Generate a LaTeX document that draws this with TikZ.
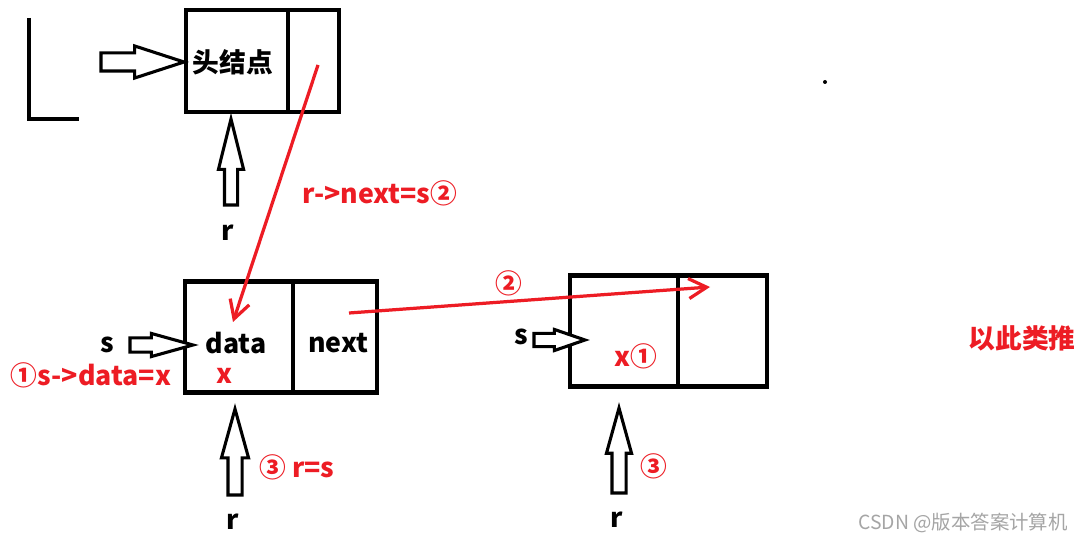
\documentclass[tikz,border=0pt]{standalone}
\usepackage{fontspec}
\setmainfont{Noto Sans CJK SC}
\usepackage{xcolor}
\usetikzlibrary{arrows.meta,positioning,shapes.arrows}
\definecolor{paintred}{RGB}{237,28,36}
\definecolor{markgray}{RGB}{165,165,165}

\begin{document}
\begin{tikzpicture}[x=0.025cm,y=-0.025cm,
  cell/.style={draw,line width=3pt,inner sep=0pt,outer sep=0pt},
  ptr/.style n args={4}{single arrow,draw,line width=2.2pt,fill=white,inner xsep=0pt,
    outer sep=0pt,single arrow head indent=0pt,minimum width=0pt,
    minimum height=#1,single arrow head extend=#2,inner ysep=#3,single arrow tip angle=#4,anchor=tip},
  txt/.style={font=\fontsize{19}{22}\selectfont\bfseries,inner sep=0pt},
  note/.style={txt,text=paintred},
  link/.style={-{Straight Barb[length=4.5mm,width=5mm]},paintred,line width=2.3pt}]
\fill[white] (0,0) rectangle (1084,543);
\useasboundingbox (0,0) rectangle (1084,543);
% list head L
\draw[line width=3pt] (29,18) |- (79,119);
\fill (825,82) circle[radius=2];
% head node
\node[cell,minimum width=2.55cm,minimum height=2.55cm] (hddata) at (237,61) {};
\node[cell,right=0pt of hddata,minimum width=1.275cm,minimum height=2.55cm] (hdnext) {};
\node[txt] (hdtxt) at (233,62) {头结点};
\node[ptr={2.075cm}{0.175cm}{0.1875cm}{36}] (lptr) at (184,62) {};
\node[ptr={2.15cm}{0.15cm}{0.125cm}{28},rotate=90] (rptr1) at (231,119) {};
\node[txt] (r1) at (228,233) {r};
% new node s
\node[cell,minimum width=2.7cm,minimum height=2.775cm] (sdata) at (239,337) {};
\node[cell,right=0pt of sdata,minimum width=2.1cm,minimum height=2.775cm] (snext) {};
\node[txt] (datatxt) at (236,343) {data};
\node[txt] (nexttxt) at (338,343) {next};
\node[note] (xval) at (224,376) {x};
\node[txt] (s1) at (107,345) {s};
\node[ptr={1.575cm}{0.1125cm}{0.1375cm}{31}] (sptr1) at (193,345) {};
\node[note] (step1) at (91,375) {①s->data=x};
\node[ptr={2.15cm}{0.1625cm}{0.1375cm}{31},rotate=90] (rptr2) at (235,409) {};
\node[txt] (r2) at (233,522) {r};
\node[note] (step3) at (297,467) {③ r=s};
% next new node
\node[cell,minimum width=2.7cm,minimum height=2.775cm] (tdata) at (624,331) {};
\node[cell,right=0pt of tdata,minimum width=2.225cm,minimum height=2.775cm] (tnext) {};
\node[txt] (s2) at (521,337) {s};
\node[ptr={1.275cm}{0.1cm}{0.125cm}{38}] (sptr2) at (585,340) {};
\node[note] (xval2) at (636,356) {x①};
\node[ptr={2.125cm}{0.1375cm}{0.1375cm}{31},rotate=90] (rptr3) at (619,408) {};
\node[txt] (r3) at (617,520) {r};
\node[note] (step3b) at (654,466) {③};
% red links
\coordinate (hdptr) at (318,65);
\coordinate (datatop) at (233,322);
\coordinate (snextptr) at (349,313);
\coordinate (tnexttop) at (710,287);
\draw[link] (hdptr) -- (datatop);
\draw[link] (snextptr) -- (tnexttop);
\node[note] (step2) at (380,193) {r->next=s②};
\node[note] (step2b) at (509,283) {②};
\node[note] (etc) at (1022,338) {以此类推};
\node[font=\fontsize{13.8}{16}\selectfont,text=markgray,inner sep=0pt] (mark) at (963,523) {CSDN @版本答案计算机};
\end{tikzpicture}
\end{document}
